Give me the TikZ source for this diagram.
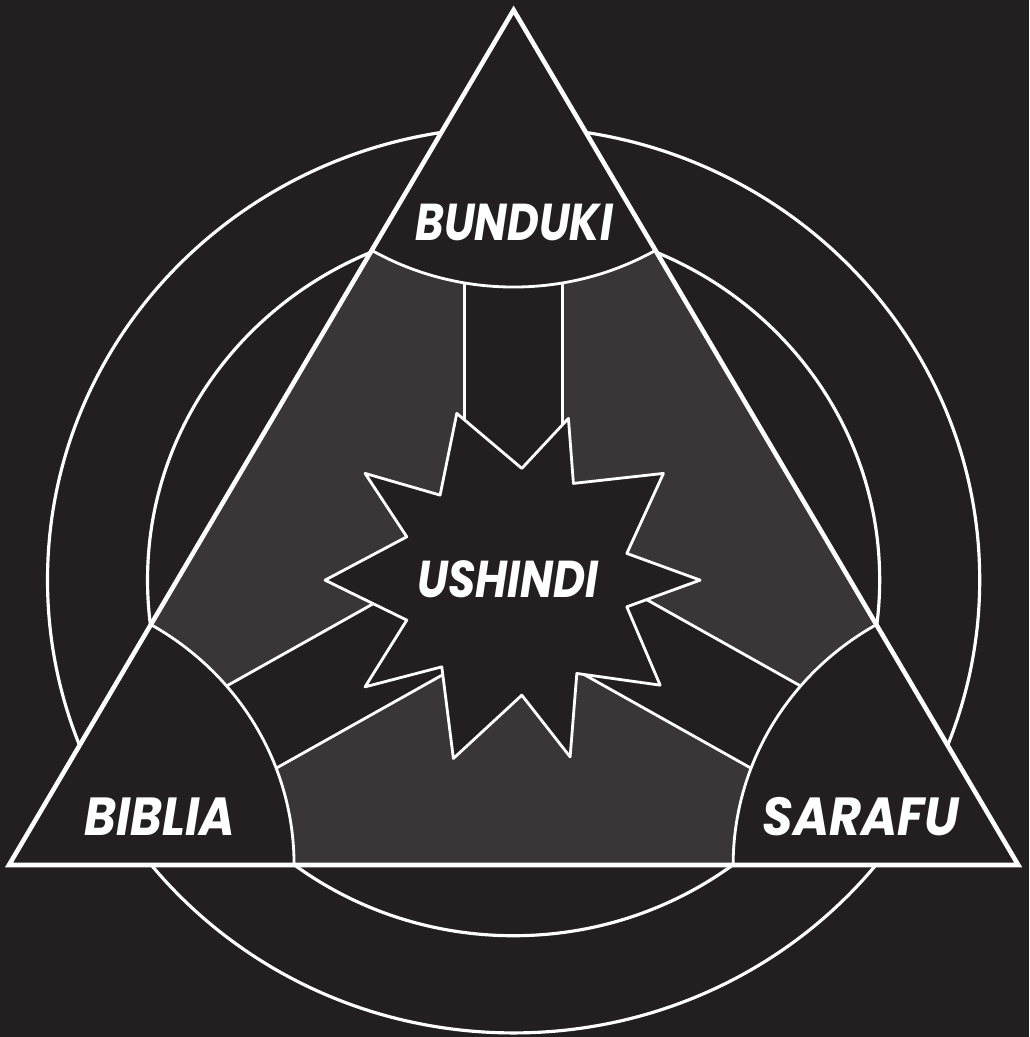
\documentclass[tikz,border=0pt]{standalone}
\usepackage{fontspec}
\setmainfont{Poppins}
\usetikzlibrary{calc}
\definecolor{bgdark}{HTML}{231F20}
\definecolor{midgray}{HTML}{3A3637}

\begin{document}
\begin{tikzpicture}[x=0.02cm, y=-0.01944cm,
    wline/.style={white, line width=1.6pt, line join=round},
    ringline/.style={white, line width=1.8pt},
    tagtext/.style={white, font=\bfseries\itshape\fontsize{25}{25}\selectfont}]
    % ==== BACKGROUND ====
    \fill[bgdark] (0,0) rectangle (1029,1066.9);
    \coordinate (T) at (513.5,10.3);
    \coordinate (L) at (9,889.9);
    \coordinate (R) at (1018,889.9);
    \coordinate (C) at (513.5,596.7);
    % ==== RINGS ====
    \draw[ringline] (C) circle[radius=466];
    \draw[ringline] (C) circle[radius=366];
    % ==== TRIANGLE ====
    \fill[midgray] (T) -- (L) -- (R) -- cycle;
    % ==== BARS ====
    \foreach \a in {270,150,30} {
        \fill[bgdark] ($(C)+(\a+90:49)$) -- ($(C)+(\a+90:49)+(\a:330)$)
            -- ($(C)+(\a-90:49)+(\a:330)$) -- ($(C)+(\a-90:49)$) -- cycle;
        \draw[wline] ($(C)+(\a+90:49)$) -- ($(C)+(\a+90:49)+(\a:330)$);
        \draw[wline] ($(C)+(\a-90:49)$) -- ($(C)+(\a-90:49)+(\a:330)$);
    }
    % ==== CORNERS ====
    \begin{scope}
        \clip (T) -- (L) -- (R) -- cycle;
        \foreach \v in {T,L,R} {
            \fill[bgdark] (\v) circle[radius=285];
            \draw[wline] (\v) circle[radius=285];
        }
    \end{scope}
    \draw[white, line width=2.6pt] (T) -- (L) -- (R) -- cycle;
    % ==== STAR ====
    \begin{scope}[y=-0.02cm]
        \draw[wline, fill=bgdark] (456.7,413.3) -- (521.7,468.3) -- (568.3,418.3)
            -- (573.3,483.3) -- (663.3,473.3) -- (626.7,553.3) -- (700,580)
            -- (626.7,606.7) -- (660,685) -- (576.7,673.3) -- (570,756.7)
            -- (521.7,695) -- (453.3,758.3) -- (441.7,666.7) -- (365,686.7)
            -- (406.7,620) -- (325,580) -- (406.7,536.7) -- (365,473.3)
            -- (440,495) -- cycle;
    \end{scope}
    % ==== LABELS ====
    \node[tagtext] (bunduki) at (514,228.4) {\scalebox{0.99}[1.18]{BUNDUKI}};
    \node[tagtext] (ushindi) at (508,595.7) {\scalebox{1.0}[1.18]{USHINDI}};
    \node[tagtext] (biblia) at (160,840.5) {\scalebox{1.1}[1.22]{BIBLIA}};
    \node[tagtext] (sarafu) at (861,840.5) {\scalebox{1.12}[1.22]{SARAFU}};
\end{tikzpicture}
\end{document}
